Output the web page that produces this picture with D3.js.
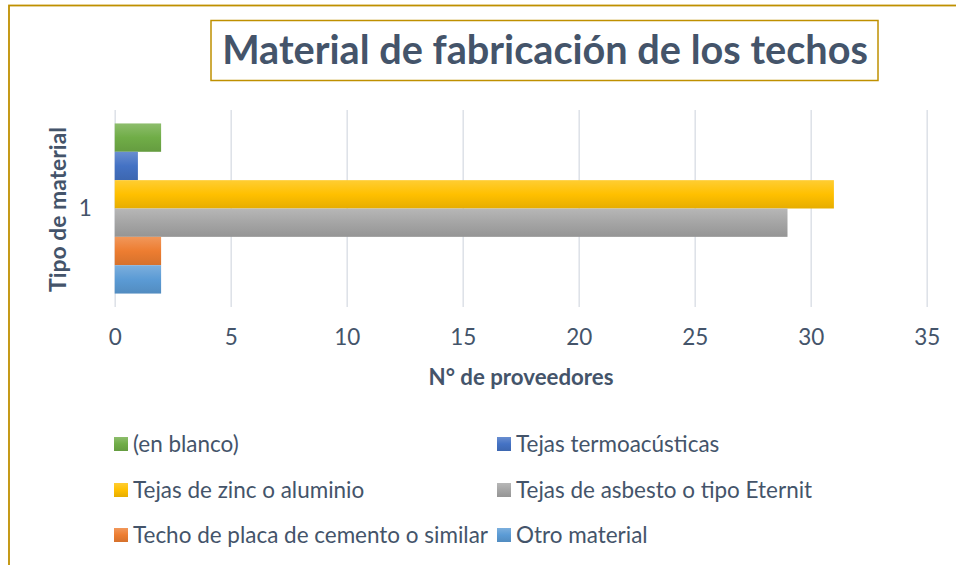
<!DOCTYPE html>
<html>
<head>
<meta charset="utf-8">
<script src="https://cdn.jsdelivr.net/npm/d3@7"></script>
<style>
  body { margin: 0; background: #fff; }
  svg text { font-family: Lato, "Open Sans", sans-serif; }
</style>
</head>
<body>
<div id="chart"></div>
<script>
// data
var categories = ["1"];
var seriesNames = ["(en blanco)", "Tejas termoacústicas", "Tejas de zinc o aluminio",
                   "Tejas de asbesto o tipo Eternit", "Techo de placa de cemento o similar", "Otro material"];
var seriesValues = [2, 1, 31, 29, 2, 2];
var seriesColors = ["#70AD47", "#4472C4", "#FFC000", "#A5A5A5", "#ED7D31", "#5B9BD5"];
var xTicks = [0, 5, 10, 15, 20, 25, 30, 35];

var W = 956, H = 565;
var textColor = "#44546A", gold = "#BF9000";

var svg = d3.select("#chart").append("svg")
    .attr("width", W).attr("height", H);

var defs = svg.append("defs");
seriesColors.forEach(function(c, i) {
  var g = defs.append("linearGradient").attr("id", "grad" + i)
    .attr("x1", 0).attr("y1", 0).attr("x2", 0).attr("y2", 1);
  g.append("stop").attr("offset", "0%").attr("stop-color", d3.interpolateRgb(c, "#fff")(0.2));
  g.append("stop").attr("offset", "50%").attr("stop-color", c);
  g.append("stop").attr("offset", "100%").attr("stop-color", d3.interpolateRgb(c, "#000")(0.1));
});

// outer chart border (continues past the window)
svg.append("rect")
  .attr("x", 9).attr("y", 5.5).attr("width", W + 20).attr("height", H + 20)
  .attr("fill", "none").attr("stroke", gold).attr("stroke-width", 1.8);

// fit a text to a target width by changing its font size
function fit(sel, target) {
  var fs = parseFloat(sel.attr("font-size"));
  var w = sel.node().getComputedTextLength();
  sel.attr("font-size", (fs * target / w).toFixed(2));
}

// title box
svg.append("rect")
  .attr("x", 211).attr("y", 20.5).attr("width", 667).attr("height", 60)
  .attr("fill", "#fff").attr("stroke", gold).attr("stroke-width", 1.5);
var title = svg.append("text")
  .attr("x", 545).attr("y", 64).attr("text-anchor", "middle")
  .attr("font-size", 34).attr("font-weight", "bold").attr("fill", textColor)
  .text("Material de fabricación de los techos");
fit(title, 646);

// scales
var plot = {left: 114.7, right: 926.7, top: 110, bottom: 307};
var x = d3.scaleLinear().domain([0, 35]).range([plot.left, plot.right]);
var y = d3.scaleBand().domain(categories).range([plot.top, plot.bottom]).paddingOuter(0.079);
var ySub = d3.scaleBand().domain(seriesNames).range([0, y.bandwidth()]);

// gridlines
svg.append("g")
  .attr("transform", "translate(0," + plot.bottom + ")")
  .call(d3.axisBottom(x).tickValues(xTicks).tickSize(-(plot.bottom - plot.top)).tickFormat(""))
  .call(function(g) {
    g.select(".domain").remove();
    g.selectAll(".tick line").attr("stroke", "#DDE1E7").attr("stroke-width", 1.5);
  });

// bars
categories.forEach(function(cat) {
  svg.append("g").selectAll("rect")
    .data(seriesNames)
    .enter().append("rect")
      .attr("x", x(0))
      .attr("y", function(d) { return y(cat) + ySub(d); })
      .attr("width", function(d, i) { return x(seriesValues[i]) - x(0); })
      .attr("height", ySub.bandwidth())
      .attr("fill", function(d, i) { return "url(#grad" + i + ")"; });
});

// body font size from the longest legend label
var probe = svg.append("text").attr("font-size", 20).text(seriesNames[4]);
fit(probe, 355);
var bodySize = +probe.attr("font-size");
probe.remove();

// x tick labels
var xAxis = svg.append("g")
  .attr("transform", "translate(0," + plot.bottom + ")")
  .call(d3.axisBottom(x).tickValues(xTicks).tickSize(0).tickPadding(0));
xAxis.select(".domain").remove();
xAxis.selectAll("text")
  .attr("y", 38).attr("dy", null)
  .attr("font-size", bodySize).attr("fill", textColor)
  .style("font-family", "Lato, sans-serif");

// y tick label
var yAxis = svg.append("g")
  .attr("transform", "translate(" + plot.left + ",0)")
  .call(d3.axisLeft(y).tickSize(0).tickPadding(23));
yAxis.select(".domain").remove();
yAxis.selectAll("text")
  .attr("font-size", bodySize).attr("fill", textColor)
  .style("font-family", "Lato, sans-serif");

// axis titles
var xTitle = svg.append("text")
  .attr("x", 521).attr("y", 385).attr("text-anchor", "middle")
  .attr("font-size", 18).attr("font-weight", "bold").attr("fill", textColor)
  .text("N° de proveedores");
fit(xTitle, 185);

var yTitle = svg.append("text")
  .attr("transform", "translate(58,209.5) rotate(-90)")
  .attr("text-anchor", "middle").attr("dy", "0.35em")
  .attr("font-size", 18).attr("font-weight", "bold").attr("fill", textColor)
  .text("Tipo de material");
fit(yTitle, 165);

// legend
var legendCols = [114, 497], legendRows = [444, 490, 535];
var legend = svg.append("g").selectAll("g")
  .data(seriesNames)
  .enter().append("g")
    .attr("transform", function(d, i) {
      return "translate(" + legendCols[i % 2] + "," + legendRows[Math.floor(i / 2)] + ")";
    });
legend.append("rect")
  .attr("x", 0).attr("y", -7).attr("width", 14).attr("height", 14)
  .attr("fill", function(d, i) { return "url(#grad" + i + ")"; });
legend.append("text")
  .attr("x", 19).attr("dy", "0.35em")
  .attr("font-size", bodySize).attr("fill", textColor)
  .text(function(d) { return d; });
</script>
</body>
</html>
